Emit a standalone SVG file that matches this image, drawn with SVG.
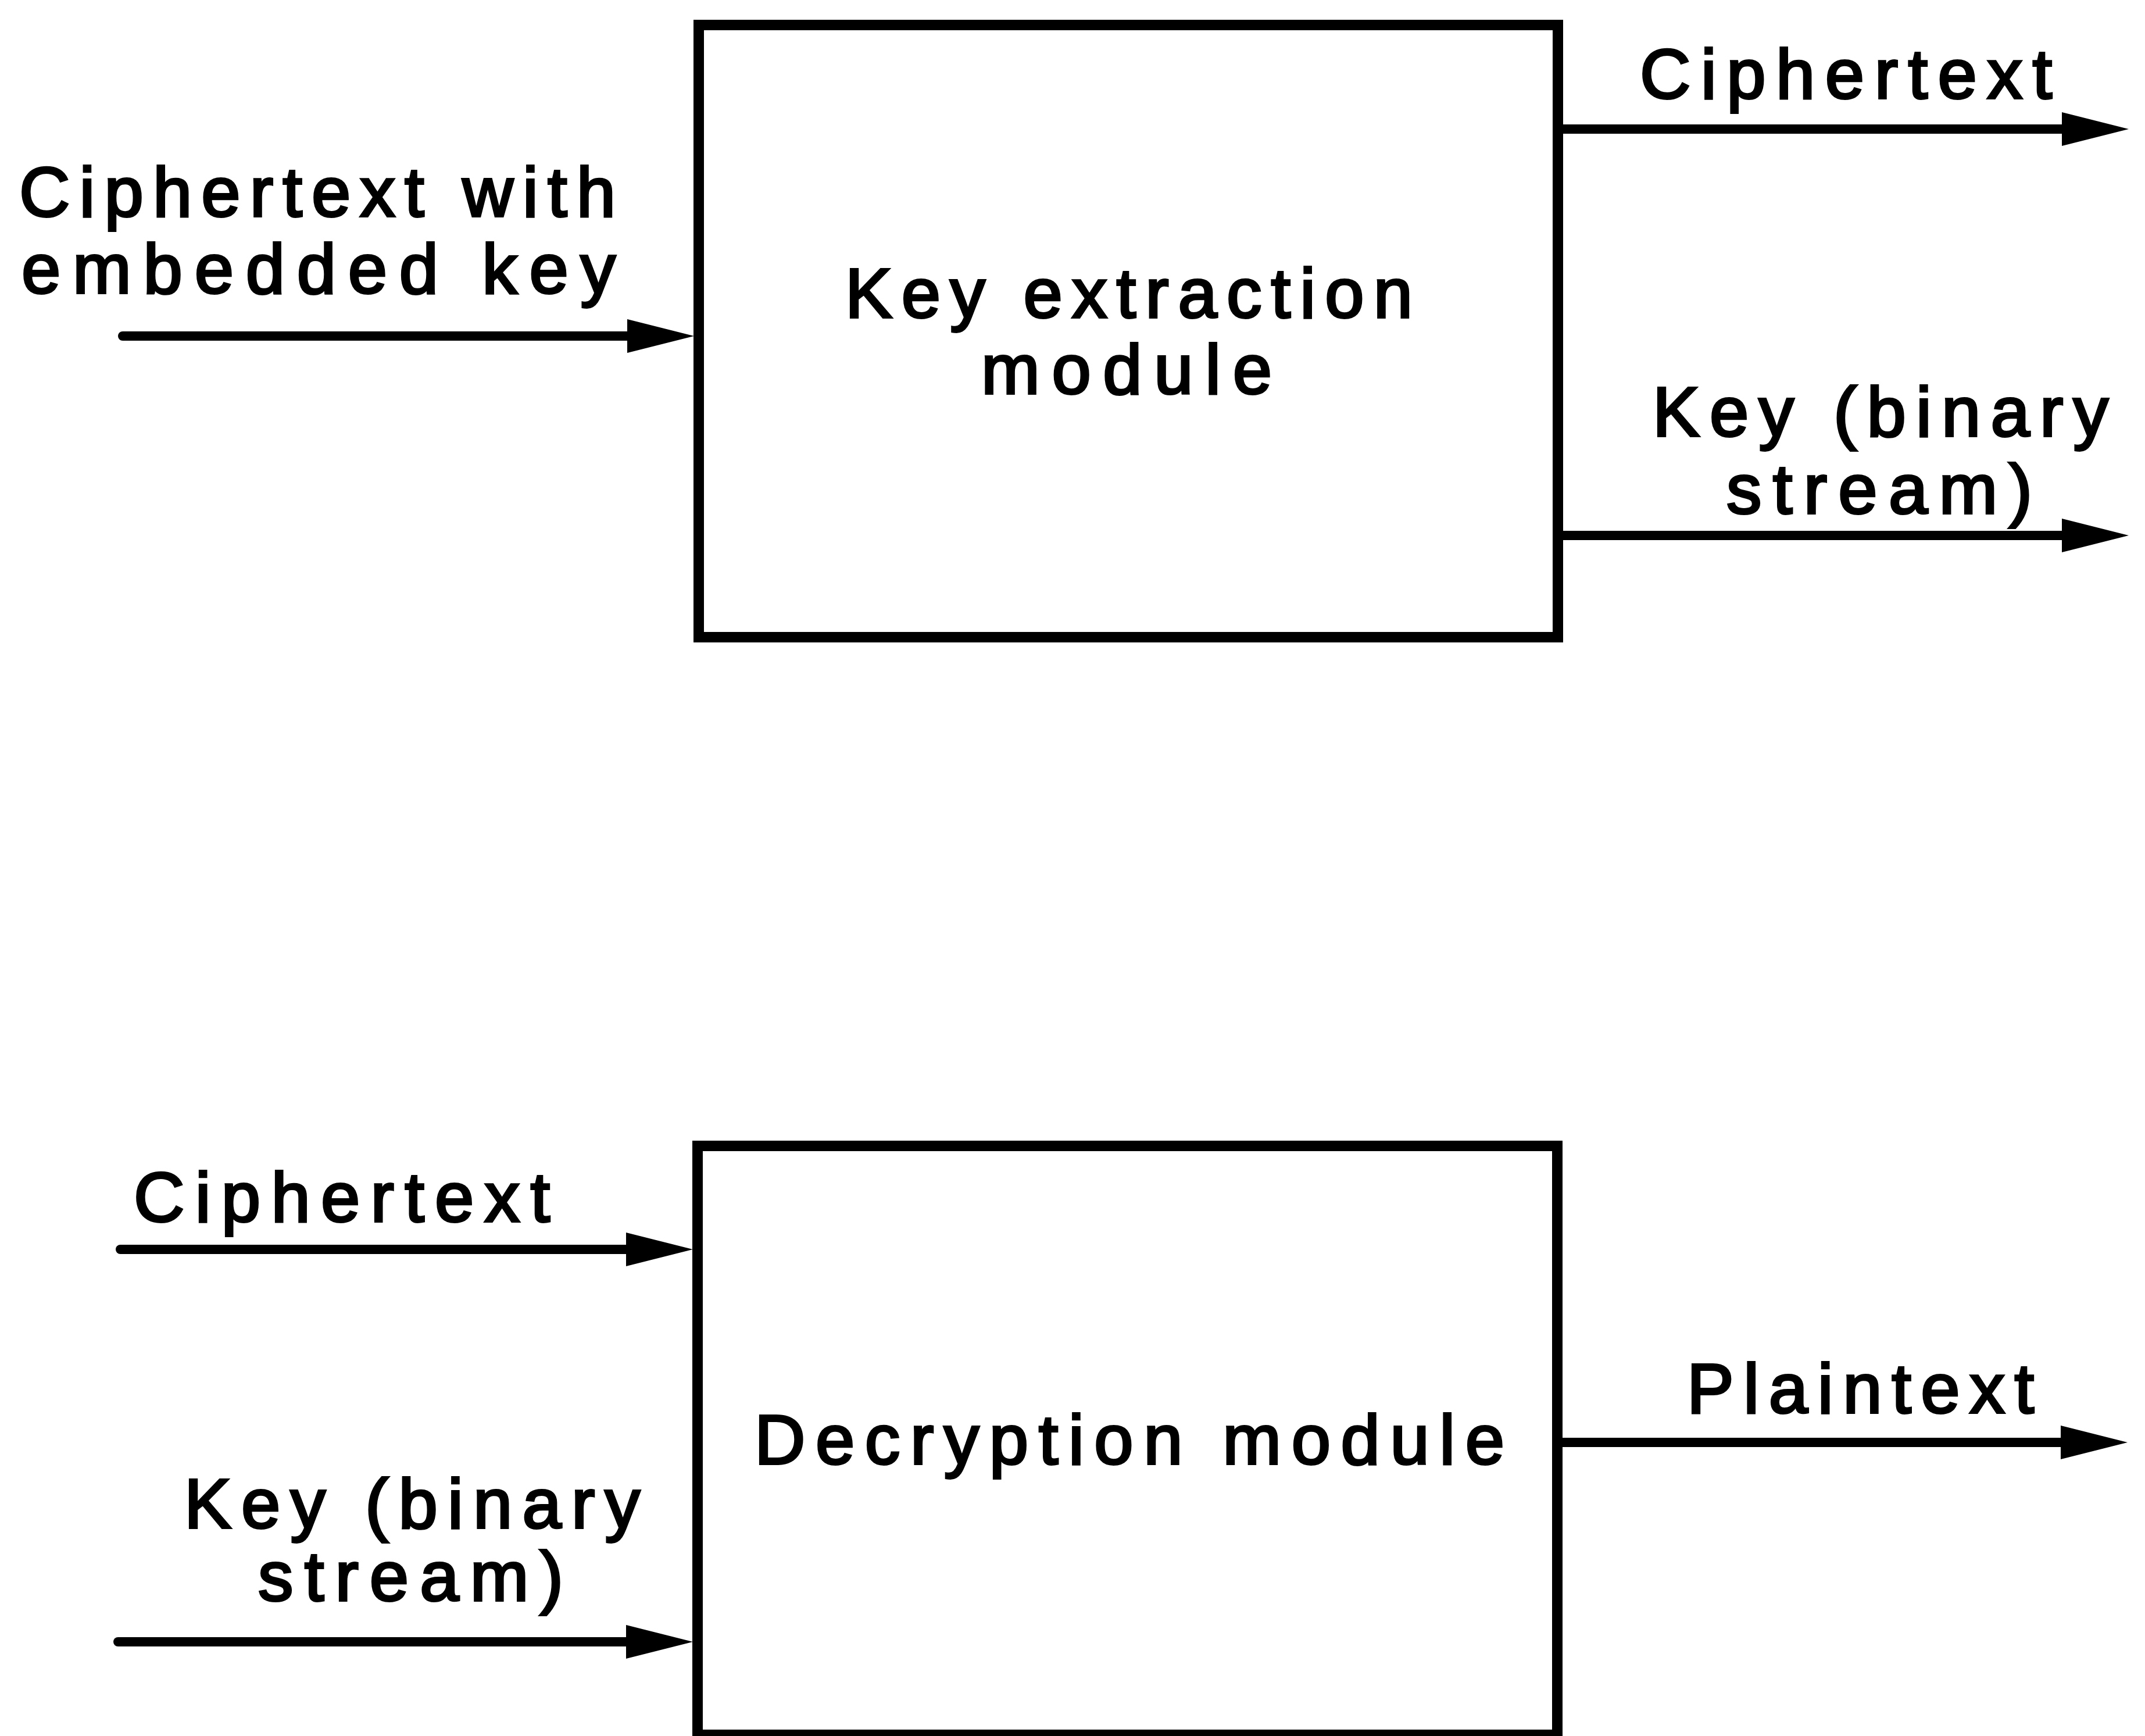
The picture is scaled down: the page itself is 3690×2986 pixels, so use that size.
<svg xmlns="http://www.w3.org/2000/svg" width="3690" height="2986" viewBox="0 0 3690 2986">
<style>
  .box { fill: #ffffff; stroke: #000000; stroke-width: 18; }
  .lbl { font-family: "Liberation Sans", Arial, sans-serif; font-size: 121px; fill: #000000; stroke: #000000; stroke-width: 4; }
  .conn { fill: none; stroke: #000000; stroke-width: 16; stroke-linecap: round; marker-end: url(#arrow); }
</style>
<defs>
  <marker id="arrow" markerUnits="userSpaceOnUse" viewBox="0 0 115 58" markerWidth="115" markerHeight="58" refX="10" refY="29" orient="auto">
    <path d="M0,0 L115,29 L0,58 Z" fill="#000000"/>
  </marker>
</defs>
<rect width="3690" height="2986" fill="#ffffff"/>
<g id="key-extraction-module">
  <rect class="box" x="1202" y="43" width="1478" height="1053"/>
  <text class="lbl" x="1454" y="546" textLength="976" lengthAdjust="spacing">Key extraction</text>
  <text class="lbl" x="1688" y="677" textLength="500" lengthAdjust="spacing">module</text>
</g>
<g id="decryption-module">
  <rect class="box" x="1200" y="1971" width="1479" height="1013"/>
  <text class="lbl" x="1298" y="2518" textLength="1290" lengthAdjust="spacing">Decryption module</text>
</g>
<g id="connectors">
  <path class="conn" d="M211,578 H1089"/>
  <path class="conn" d="M2680,222 H3557"/>
  <path class="conn" d="M2680,921 H3557"/>
  <path class="conn" d="M207,2149 H1087"/>
  <path class="conn" d="M203,2824 H1087"/>
  <path class="conn" d="M2680,2481 H3555"/>
</g>
<g id="labels">
  <text class="lbl" x="33" y="372" textLength="1026" lengthAdjust="spacing">Ciphertext with</text>
  <text class="lbl" x="37" y="504" textLength="1022" lengthAdjust="spacing">embedded key</text>
  <text class="lbl" x="2821" y="169" textLength="709" lengthAdjust="spacing">Ciphertext</text>
  <text class="lbl" x="2843" y="750" textLength="784" lengthAdjust="spacing">Key (binary</text>
  <text class="lbl" x="2970" y="883" textLength="526" lengthAdjust="spacing">stream)</text>
  <text class="lbl" x="230" y="2101" textLength="716" lengthAdjust="spacing">Ciphertext</text>
  <text class="lbl" x="317" y="2628" textLength="784" lengthAdjust="spacing">Key (binary</text>
  <text class="lbl" x="444" y="2753" textLength="525" lengthAdjust="spacing">stream)</text>
  <text class="lbl" x="2902" y="2430" textLength="597" lengthAdjust="spacing">Plaintext</text>
</g>
</svg>
